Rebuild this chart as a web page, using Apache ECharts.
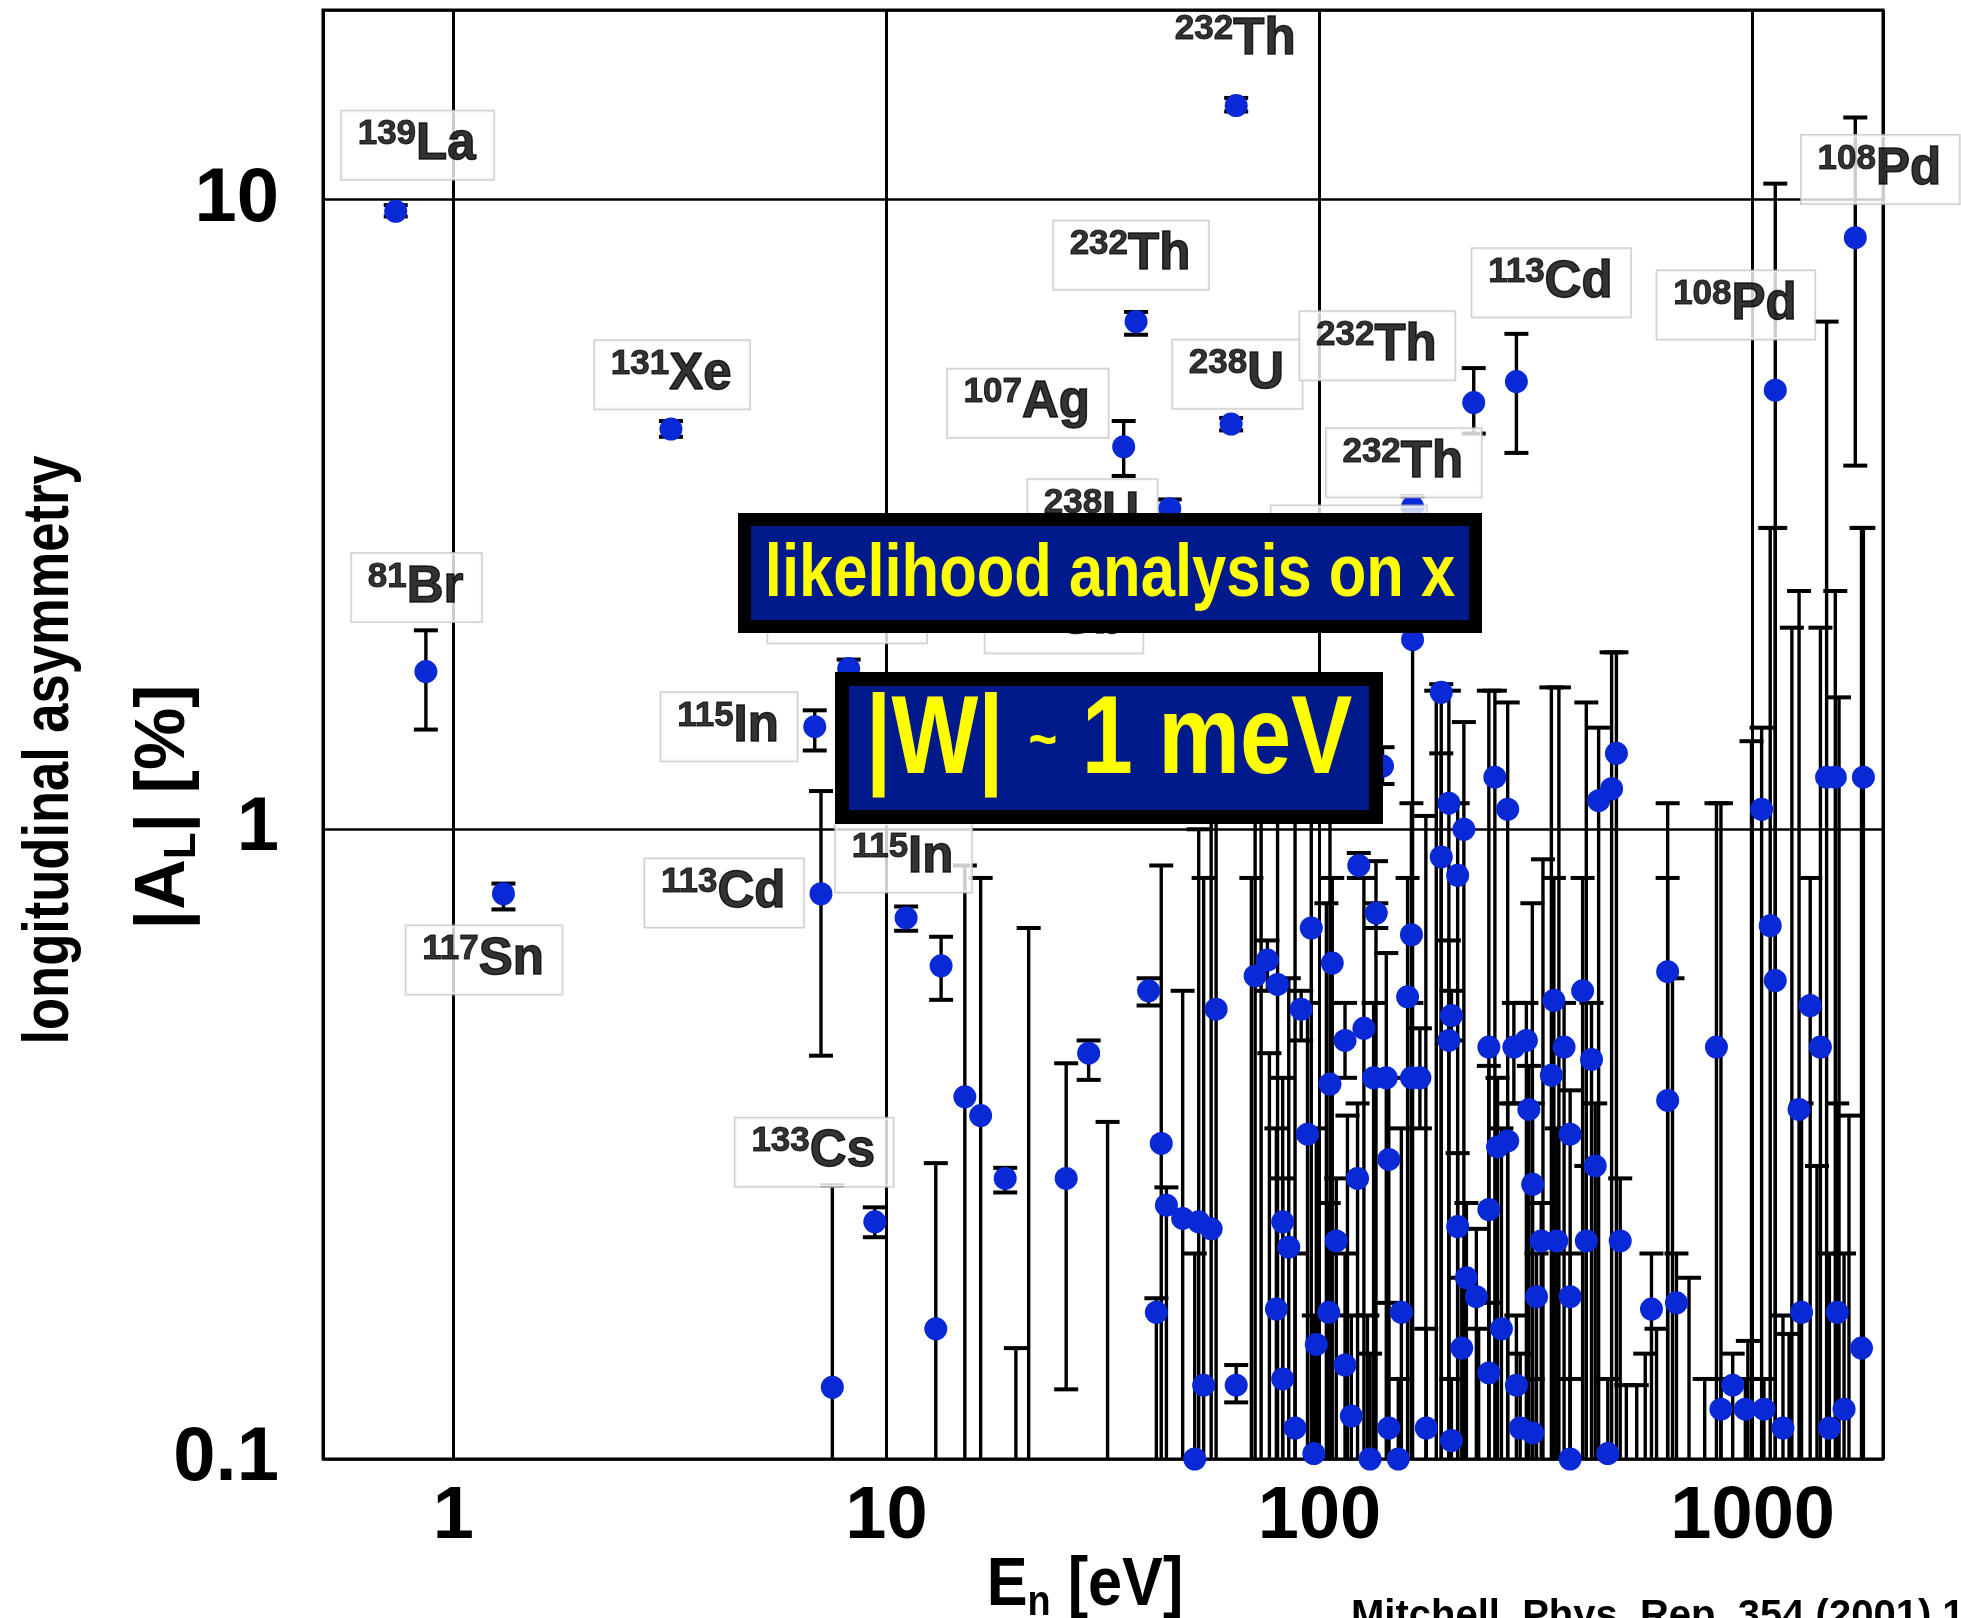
<!DOCTYPE html>
<html>
<head>
<meta charset="utf-8">
<script src="https://cdn.jsdelivr.net/npm/echarts@6/dist/echarts.min.js"></script>
<style>
  html, body { margin: 0; padding: 0; background: #fff; }
  #chart { width: 1961px; height: 1618px; }
</style>
</head>
<body>
<div id="chart"></div>
<script>
// resonances: [E (eV), |A_L| (%), lower end of error bar, upper end]
// a lower end of 0.05 means the bar runs off the bottom of the plot
const resonances = [
  [0.736, 9.58, 9.4, 9.8],
  [0.864, 1.78, 1.44, 2.07],
  [1.305, 0.79, 0.746, 0.82],
  [3.18, 4.32, 4.2, 4.45],
  [6.83, 1.455, 1.334, 1.545],
  [7.06, 0.79, 0.437, 1.15],
  [7.50, 0.13, 0.05, 0.272],
  [8.18, 1.80, 1.74, 1.86],
  [9.40, 0.238, 0.225, 0.251],
  [11.1, 0.723, 0.69, 0.754],
  [13.0, 0.161, 0.05, 0.295],
  [13.37, 0.607, 0.536, 0.675],
  [15.17, 0.376, 0.05, 0.876],
  [16.5, 0.351, 0.05, 0.837],
  [18.8, 0.279, 0.265, 0.29],
  [26.0, 0.279, 0.129, 0.425],
  [29.3, 0.441, 0.40, 0.462],
  [35.3, 4.05, 3.64, 4.45],
  [37.7, 6.4, 6.1, 6.63],
  [40.3, 0.554, 0.525, 0.58],
  [43.1, 0.317, 0.05, 0.876],
  [42.0, 0.171, 0.05, 0.18],
  [44.3, 0.253, 0.05, 0.27],
  [45.1, 3.23, 3.13, 3.34],
  [48.3, 0.241, 0.05, 0.554],
  [52.6, 0.238, 0.05, 1.0],
  [56.2, 0.232, 0.05, 1.10],
  [51.5, 0.1, 0.05, 0.212],
  [54.0, 0.131, 0.05, 0.837],
  [57.7, 0.518, 0.05, 1.10],
  [62.5, 4.40, 4.3, 4.5],
  [64.2, 14.1, 13.8, 14.5],
  [64.2, 0.131, 0.123, 0.141],
  [71.0, 0.585, 0.05, 1.21],
  [75.8, 0.62, 0.554, 0.666],
  [80.0, 0.567, 0.05, 1.10],
  [79.5, 0.173, 0.05, 0.335],
  [82.2, 0.238, 0.05, 0.403],
  [84.9, 0.217, 0.05, 0.58],
  [82.2, 0.134, 0.05, 0.279],
  [87.8, 0.112, 0.05, 0.212],
  [90.7, 0.518, 0.462, 0.554],
  [95.7, 0.697, 0.05, 1.10],
  [93.8, 0.328, 0.05, 0.53],
  [97.0, 0.102, 0.05, 0.169],
  [98.3, 0.152, 0.05, 0.335],
  [105.7, 0.394, 0.05, 1.10],
  [107, 0.613, 0.05, 0.837],
  [109.3, 0.222, 0.05, 0.279],
  [105, 0.171, 0.05, 0.255],
  [114.5, 0.141, 0.05, 0.212],
  [118.4, 0.117, 0.05, 0.169],
  [114.5, 0.462, 0.403, 0.53],
  [123.2, 0.876, 0.837, 0.917],
  [126.6, 0.483, 0.05, 0.837],
  [122.4, 0.279, 0.05, 0.367],
  [130.8, 0.1, 0.05, 0.147],
  [135.2, 0.736, 0.697, 0.763],
  [133.3, 0.403, 0.05, 0.53],
  [139.8, 1.26, 1.18, 1.35],
  [142.6, 0.403, 0.05, 0.636],
  [144.5, 0.299, 0.05, 0.403],
  [144.5, 0.112, 0.05, 0.177],
  [154.5, 0.171, 0.05, 0.335],
  [159.7, 0.542, 0.05, 0.837],
  [163, 0.403, 0.05, 0.53],
  [163, 0.68, 0.05, 1.10],
  [164, 2.0, 0.05, 3.23],
  [164, 3.25, 3.13, 3.38],
  [170.5, 0.403, 0.335, 0.483],
  [176.4, 0.112, 0.05, 0.161],
  [152, 0.1, 0.05, 0.134],
  [191, 1.65, 0.05, 1.70],
  [191, 0.904, 0.05, 1.32],
  [198.9, 1.10, 0.05, 1.66],
  [201.6, 0.506, 0.462, 0.554],
  [198.9, 0.462, 0.05, 0.666],
  [208.4, 0.845, 0.05, 1.10],
  [208.4, 0.234, 0.05, 0.306],
  [215.4, 1.0, 0.05, 1.48],
  [213, 0.15, 0.05, 0.194],
  [201.6, 0.107, 0.05, 0.134],
  [218.3, 0.194, 0.05, 0.255],
  [227, 4.76, 4.25, 5.40],
  [230.2, 0.181, 0.05, 0.232],
  [246, 0.451, 0.05, 1.66],
  [246, 0.249, 0.05, 0.421],
  [254, 1.21, 0.05, 1.66],
  [257.6, 0.313, 0.05, 0.403],
  [263, 0.161, 0.05, 0.335],
  [246, 0.137, 0.05, 0.177],
  [271.9, 1.076, 0.05, 1.59],
  [271.9, 0.32, 0.05, 0.367],
  [281, 0.451, 0.367, 0.53],
  [284.8, 5.14, 3.96, 6.12],
  [284.8, 0.131, 0.05, 0.169],
  [290.6, 0.112, 0.05, 0.147],
  [300.3, 0.462, 0.05, 0.53],
  [304.3, 0.359, 0.05, 0.421],
  [310.5, 0.273, 0.05, 0.367],
  [317, 0.181, 0.05, 0.212],
  [310.5, 0.11, 0.05, 0.134],
  [325, 0.222, 0.05, 0.255],
  [343, 0.407, 0.05, 1.68],
  [347.6, 0.535, 0.05, 0.837],
  [353, 0.222, 0.05, 0.335],
  [367, 0.451, 0.05, 0.53],
  [379, 0.328, 0.05, 0.385],
  [379, 0.181, 0.05, 0.212],
  [379, 0.1, 0.05, 0.134],
  [405, 0.554, 0.05, 0.837],
  [413, 0.222, 0.05, 0.292],
  [424.6, 0.431, 0.05, 0.53],
  [433, 0.292, 0.05, 0.367],
  [441, 1.11, 0.05, 1.45],
  [463, 0.102, 0.05, 0.134],
  [472.5, 1.16, 0.05, 1.91],
  [484.7, 1.32, 0.05, 1.91],
  [494.6, 0.222, 0.05, 0.279],
  [584, 0.173, 0.05, 0.212],
  [636.5, 0.594, 0.05, 1.10],
  [636.5, 0.371, 0.05, 0.837],
  [667, 0.177, 0.05, 0.212],
  [825, 0.451, 0.05, 1.10],
  [899.5, 0.131, 0.05, 0.147],
  [845, 0.12, 0.05, 0.134],
  [962, 0.12, 0.05, 0.134],
  [1049, 1.076, 0.05, 1.45],
  [1062, 0.12, 0.05, 0.134],
  [1098, 0.703, 0.05, 3.01],
  [1128, 4.98, 0.05, 10.6],
  [1128, 0.575, 0.05, 3.01],
  [1175, 0.112, 0.05, 0.169],
  [1280, 0.359, 0.05, 2.39],
  [1297, 0.171, 0.05, 0.367],
  [1358, 0.525, 0.05, 0.837],
  [1434, 0.451, 0.05, 2.09],
  [1482, 1.21, 0.05, 6.4],
  [1504, 0.112, 0.05, 0.212],
  [1552, 1.21, 0.05, 2.39],
  [1568, 0.171, 0.05, 0.367],
  [1626, 0.12, 0.05, 0.212],
  [1726, 8.70, 3.78, 13.5],
  [1784, 0.15, 0.05, 3.01],
  [1802, 1.21, 0.05, 3.01]
];

// error bars whose central value lies below 0.1 %: [E (eV), upper end]
const openBars = [
  [19.9, 0.15], [21.3, 0.697], [32.4, 0.343], [69.6, 0.837], [73.3, 1.10],
  [76.6, 0.441], [87.8, 1.03], [103.7, 0.763], [116, 0.351], [129, 0.169],
  [135, 0.89], [176, 1.05], [186, 1.66], [233, 0.161], [310, 0.763],
  [328, 0.896], [357, 1.68], [413, 1.59], [511, 0.131], [540, 0.131],
  [565, 0.147], [600, 0.161], [653, 0.58], [713, 0.194], [775, 0.134],
  [845, 1.10], [975, 0.154], [994, 1.38], [1214, 0.158], [1232, 2.09],
  [1408, 0.292], [1583, 1.62], [1669, 0.351]
];

// isotope tags: [mass number, element, E at tag centre, |A_L| at tag centre, boxed]
const isotopeLabels = [
  ['139', 'La', 0.827, 12.2, true],
  ['131', 'Xe', 3.20, 5.27, true],
  ['81', 'Br', 0.822, 2.42, true],
  ['115', 'In', 4.33, 1.455, true],
  ['117', 'Sn', 1.177, 0.62, true],
  ['113', 'Cd', 4.22, 0.792, true],
  ['133', 'Cs', 6.81, 0.307, true],
  ['115', 'In', 10.95, 0.90, true],
  ['107', 'Ag', 21.2, 4.75, true],
  ['232', 'Th', 36.7, 8.16, true],
  ['232', 'Th', 64.2, 17.9, false],
  ['238', 'U', 64.6, 5.28, true],
  ['232', 'Th', 136, 5.86, true],
  ['113', 'Cd', 343, 7.38, true],
  ['232', 'Th', 156.5, 3.82, true],
  ['108', 'Pd', 915, 6.80, true],
  ['108', 'Pd', 1972, 11.16, true],
  ['238', 'U', 29.9, 3.17, true],
  ['123', 'Sb', 25.7, 2.16, true],
  ['113', 'Cd', 8.12, 2.24, true],
  ['232', 'Th', 116.8, 2.88, true]
];

const xTickValues = [1, 10, 100, 1000];
const xTickLabels = ['1', '10', '100', '1000'];
const yTickValues = [0.1, 1, 10];
const yTickLabels = ['0.1', '1', '10'];

const Y_MIN = 0.1;
const FONT = '"Liberation Sans", Arial, Helvetica, sans-serif';

function decadeLabel(values, labels) {
  return function (v) {
    for (let i = 0; i < values.length; i++) {
      if (Math.abs(Math.log10(v) - Math.log10(values[i])) < 1e-6) return labels[i];
    }
    return '';
  };
}

const barData = resonances.map(r => [r[0], r[2], r[3]])
  .concat(openBars.map(b => [b[0], 0.05, b[1]]));

const labelData = isotopeLabels.map(([mass, el, e, a, boxed]) => ({
  value: [e, a],
  mass: mass,
  el: el,
  label: boxed ? {} : { backgroundColor: 'transparent', borderWidth: 0 }
}));

const myChart = echarts.init(document.getElementById('chart'));

const option = {
  animation: false,
  backgroundColor: '#fff',
  grid: {
    left: 323, top: 10, width: 1560, height: 1449,
    show: true, borderColor: '#000', borderWidth: 3, backgroundColor: '#fff',
    outerBoundsMode: 'none'
  },
  xAxis: {
    type: 'log', logBase: 10, min: 0.5, max: 2000,
    axisLine: { show: false },
    axisTick: { show: false },
    splitLine: { show: true, lineStyle: { color: '#000', width: 3 } },
    axisLabel: {
      formatter: decadeLabel(xTickValues, xTickLabels),
      fontFamily: FONT, fontWeight: 'bold', fontSize: 74, color: '#000', margin: 22
    }
  },
  yAxis: {
    type: 'log', logBase: 10, min: Y_MIN, max: 20,
    axisLine: { show: false },
    axisTick: { show: false },
    splitLine: { show: true, lineStyle: { color: '#000', width: 2.5 } },
    axisLabel: {
      formatter: decadeLabel(yTickValues, yTickLabels),
      fontFamily: FONT, fontWeight: 'bold', fontSize: 76, color: '#000', margin: 44
    }
  },
  series: [
    {
      // error bars
      type: 'custom', z: 2, silent: true, clip: true,
      data: barData,
      encode: { x: 0, y: [1, 2] },
      renderItem: function (params, api) {
        const e = api.value(0);
        const lo = api.value(1);
        const hi = api.value(2);
        const open = lo < Y_MIN;
        const top = api.coord([e, hi]);
        const bot = api.coord([e, open ? Y_MIN : lo]);
        const half = 12;
        const kids = [
          { type: 'line', shape: { x1: top[0], y1: top[1], x2: bot[0], y2: bot[1] },
            style: { stroke: '#000', lineWidth: 3.4 } },
          { type: 'line', shape: { x1: top[0] - half, y1: top[1], x2: top[0] + half, y2: top[1] },
            style: { stroke: '#000', lineWidth: 4 } }
        ];
        if (!open) {
          kids.push({ type: 'line', shape: { x1: bot[0] - half, y1: bot[1], x2: bot[0] + half, y2: bot[1] },
            style: { stroke: '#000', lineWidth: 4 } });
        }
        return { type: 'group', children: kids };
      }
    },
    {
      // measured asymmetries
      type: 'scatter', z: 3, silent: true,
      symbol: 'circle', symbolSize: 23,
      itemStyle: { color: '#0a29d6', opacity: 1 },
      data: resonances.map(r => [r[0], r[1]])
    },
    {
      // isotope tags
      type: 'scatter', z: 4, silent: true,
      symbolSize: 1,
      itemStyle: { color: 'transparent' },
      data: labelData,
      label: {
        show: true, position: 'inside', color: '#000',
        formatter: p => '{m|' + p.data.mass + '}{s|' + p.data.el + '}',
        backgroundColor: '#fff', borderColor: '#c4c4c4', borderWidth: 1.5,
        padding: [6, 18, 6, 16],
        rich: {
          m: { fontFamily: FONT, fontWeight: 'bold', fontSize: 35, color: '#000', lineHeight: 38,
            verticalAlign: 'top', textBorderColor: '#000', textBorderWidth: 1 },
          s: { fontFamily: FONT, fontWeight: 'bold', fontSize: 51, color: '#000', lineHeight: 56,
            textBorderColor: '#000', textBorderWidth: 1.5 }
        }
      }
    }
  ],
  graphic: [
    {
      type: 'text', x: 50, y: 750, rotation: Math.PI / 2, scaleX: 0.82,
      style: { text: 'longitudinal asymmetry', font: 'bold 64px ' + FONT, fill: '#000',
        align: 'center', verticalAlign: 'middle' }
    },
    {
      type: 'text', x: 165, y: 807, rotation: Math.PI / 2,
      style: {
        text: '{a||A}{b|L}{a|| [%]}', align: 'center', verticalAlign: 'middle',
        rich: {
          a: { font: 'bold 70px ' + FONT, fill: '#000', lineHeight: 80 },
          b: { font: 'bold 44px ' + FONT, fill: '#000', lineHeight: 58, verticalAlign: 'bottom' }
        }
      }
    },
    {
      type: 'text', x: 1085, y: 1586, scaleX: 0.9,
      style: {
        text: '{a|E}{b|n}{a| [eV]}', align: 'center', verticalAlign: 'middle',
        rich: {
          a: { font: 'bold 68px ' + FONT, fill: '#000', lineHeight: 76 },
          b: { font: 'bold 42px ' + FONT, fill: '#000', lineHeight: 56, verticalAlign: 'bottom' }
        }
      }
    },
    {
      type: 'text', x: 1351, y: 1597,
      style: { text: 'Mitchell, Phys. Rep. 354 (2001) 157', font: 'bold 40px ' + FONT, fill: '#000',
        align: 'left', verticalAlign: 'top' }
    },
    { type: 'rect', z: 100, shape: { x: 738, y: 513, width: 744, height: 120 }, style: { fill: '#000' } },
    { type: 'rect', z: 101, shape: { x: 751, y: 526, width: 718, height: 94 }, style: { fill: '#001a8c' } },
    {
      type: 'text', z: 102, x: 1110, y: 575, scaleX: 0.82,
      style: { text: 'likelihood analysis on x', font: 'bold 75px ' + FONT, fill: '#ffff00',
        align: 'center', verticalAlign: 'middle' }
    },
    { type: 'rect', z: 100, shape: { x: 835, y: 672, width: 548, height: 152 }, style: { fill: '#000' } },
    { type: 'rect', z: 101, shape: { x: 849, y: 686, width: 520, height: 124 }, style: { fill: '#001a8c' } },
    {
      type: 'text', z: 102, x: 1109, y: 742, scaleX: 0.82,
      style: {
        text: '{a||W|}{b|~}{a|1 meV}', align: 'center', verticalAlign: 'middle',
        rich: {
          a: { font: 'bold 112px ' + FONT, fill: '#ffff00', lineHeight: 120 },
          b: { font: 'bold 60px ' + FONT, fill: '#ffff00', lineHeight: 120, padding: [0, 30, 0, 30] }
        }
      }
    }
  ]
};

myChart.setOption(option);
window.addEventListener('resize', function () {
  myChart.resize();
});
</script>
</body>
</html>
